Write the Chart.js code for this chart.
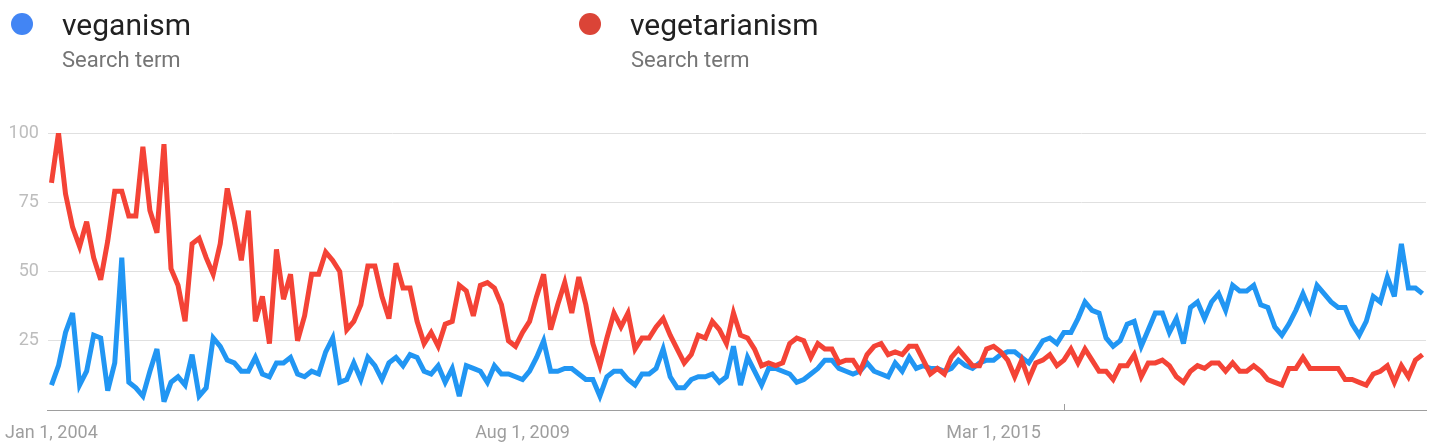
<!DOCTYPE html>
<html>
<head>
<meta charset="utf-8">
<title>veganism vs vegetarianism</title>
<script src="https://cdn.jsdelivr.net/npm/chart.js@4/dist/chart.umd.min.js"></script>
<style>
  html, body { margin: 0; padding: 0; background: #fff; overflow: hidden; }
  #wrap { position: relative; width: 1443px; height: 443px; }
  #grafico { position: absolute; left: 0; top: 0; }
  .dot { position: absolute; width: 22px; height: 22px; border-radius: 50%; }
  .termo { position: absolute; font-family: Roboto, sans-serif; font-size: 30px; color: #212121; line-height: 1; }
  .sub { position: absolute; font-family: Roboto, sans-serif; font-size: 22px; color: #757575; line-height: 1; }
</style>
</head>
<body>
<div id="wrap">
  <canvas id="grafico" width="1443" height="443"></canvas>
  <div class="dot" style="left:11px; top:13px; background:#4285f4;"></div>
  <div class="termo" style="left:62px; top:10px;">veganism</div>
  <div class="sub" style="left:62px; top:49px;">Search term</div>
  <div class="dot" style="left:579px; top:13px; background:#db4437;"></div>
  <div class="termo" style="left:630px; top:10px;">vegetarianism</div>
  <div class="sub" style="left:631px; top:49px;">Search term</div>
</div>
<script>
// interest over time, monthly from Jan 2004 (Google Trends scale 0-100)
const veganism = [
  9, 16, 28, 35, 9, 14, 27, 26, 7, 17,
  55, 10, 8, 5, 14, 22, 3, 10, 12, 9,
  20, 5, 8, 26, 23, 18, 17, 14, 14, 19,
  13, 12, 17, 17, 19, 13, 12, 14, 13, 21,
  26, 10, 11, 17, 11, 19, 16, 11, 17, 19,
  16, 20, 19, 14, 13, 16, 10, 15, 5, 16,
  15, 14, 10, 16, 13, 13, 12, 11, 14, 19,
  25, 14, 14, 15, 15, 13, 11, 11, 5, 12,
  14, 14, 11, 9, 13, 13, 15, 22, 12, 8,
  8, 11, 12, 12, 13, 10, 12, 23, 9, 19,
  14, 9, 15, 15, 14, 13, 10, 11, 13, 15,
  18, 18, 15, 14, 13, 14, 17, 14, 13, 12,
  17, 14, 19, 15, 16, 15, 15, 14, 15, 18,
  16, 15, 17, 18, 18, 20, 21, 21, 19, 17,
  21, 25, 26, 24, 28, 28, 33, 39, 36, 35,
  26, 23, 25, 31, 32, 23, 29, 35, 35, 28,
  33, 24, 37, 39, 33, 39, 42, 36, 45, 43,
  43, 45, 38, 37, 30, 27, 31, 36, 42, 36,
  45, 42, 39, 37, 37, 31, 27, 32, 41, 39,
  48, 41, 60, 44, 44, 42
];
const vegetarianism = [
  82, 100, 78, 66, 59, 68, 55, 47, 61, 79,
  79, 70, 70, 95, 72, 64, 96, 51, 45, 32,
  60, 62, 55, 49, 60, 80, 68, 54, 72, 32,
  41, 24, 58, 40, 49, 25, 34, 49, 49, 57,
  54, 50, 29, 32, 38, 52, 52, 41, 33, 53,
  44, 44, 32, 24, 28, 23, 31, 32, 45, 43,
  34, 45, 46, 44, 38, 25, 23, 28, 32, 41,
  49, 29, 38, 46, 35, 48, 38, 24, 16, 26,
  35, 30, 35, 22, 26, 26, 30, 33, 27, 22,
  17, 20, 27, 26, 32, 29, 24, 35, 27, 26,
  22, 16, 17, 16, 17, 24, 26, 25, 19, 24,
  22, 22, 17, 18, 18, 14, 20, 23, 24, 20,
  21, 20, 23, 23, 18, 13, 15, 13, 19, 22,
  19, 16, 16, 22, 23, 21, 18, 12, 18, 11,
  17, 18, 20, 16, 18, 22, 17, 22, 18, 14,
  14, 11, 16, 16, 20, 12, 17, 17, 18, 16,
  12, 10, 14, 16, 15, 17, 17, 14, 17, 14,
  14, 16, 14, 11, 10, 9, 15, 15, 19, 15,
  15, 15, 15, 15, 11, 11, 10, 9, 13, 14,
  16, 10, 16, 12, 18, 20
];

// rotulos do eixo X e marcador de nota (melhoria na coleta de dados)
const tickLabels = ['Jan 1, 2004', 'Aug 1, 2009', 'Mar 1, 2015'];
const noteLabel = 'Jan 1, 2016';
const yTicks = [25, 50, 75, 100];

const monthNames = ['Jan','Feb','Mar','Apr','May','Jun','Jul','Aug','Sep','Oct','Nov','Dec'];
const months = [];
for (let i = 0; i < veganism.length; i++) {
    months.push(monthNames[i % 12] + ' 1, ' + (2004 + Math.floor(i / 12)));
}

// pequeno traço no eixo marcando a nota + limite de mitra das linhas
const notaPlugin = {
    id: 'nota',
    beforeDatasetsDraw(chart) {
        chart.ctx.miterLimit = 4;
    },
    afterDraw(chart) {
        const x = chart.scales.x.getPixelForValue(months.indexOf(noteLabel));
        const bottom = chart.chartArea.bottom;
        const ctx = chart.ctx;
        ctx.save();
        ctx.strokeStyle = '#9e9e9e';
        ctx.lineWidth = 1;
        ctx.beginPath();
        ctx.moveTo(Math.round(x) + 0.5, bottom - 6);
        ctx.lineTo(Math.round(x) + 0.5, bottom);
        ctx.stroke();
        ctx.restore();
    }
};

const ctx = document.getElementById('grafico').getContext('2d');
new Chart(ctx, {
    type: 'line',
    data: {
        labels: months,
        datasets: [{
            label: 'veganism',
            data: veganism,
            borderColor: '#2196f3',
            borderWidth: 5,
            pointRadius: 0,
            tension: 0,
            fill: false,
            order: 1
        }, {
            label: 'vegetarianism',
            data: vegetarianism,
            borderColor: '#f44336',
            borderWidth: 5,
            pointRadius: 0,
            tension: 0,
            fill: false,
            order: 0
        }]
    },
    options: {
        responsive: false,
        animation: false,
        layout: { padding: { top: 133, right: 17, left: 0, bottom: 0 } },
        plugins: {
            legend: { display: false },
            tooltip: { enabled: false }
        },
        scales: {
            x: {
                type: 'category',
                offset: true,
                afterFit: s => { s.height = 33; },
                grid: { display: false },
                border: { display: true, color: '#9e9e9e', width: 1 },
                ticks: {
                    autoSkip: false,
                    maxRotation: 0,
                    padding: 5,
                    color: '#9e9e9e',
                    font: { family: 'Roboto', size: 18 },
                    callback: (val, idx) => tickLabels.includes(months[idx]) ? months[idx] : null
                }
            },
            y: {
                min: 0,
                max: 100,
                afterFit: s => { s.width = 47; },
                afterBuildTicks: s => { s.ticks = [0].concat(yTicks).map(v => ({ value: v })); },
                grid: { color: '#e0e0e0', lineWidth: 1, drawTicks: false },
                border: { display: false },
                ticks: {
                    padding: 9,
                    color: '#bdbdbd',
                    font: { family: 'Roboto', size: 18 },
                    callback: v => v === 0 ? '' : v
                }
            }
        }
    },
    plugins: [notaPlugin]
});
</script>
</body>
</html>
